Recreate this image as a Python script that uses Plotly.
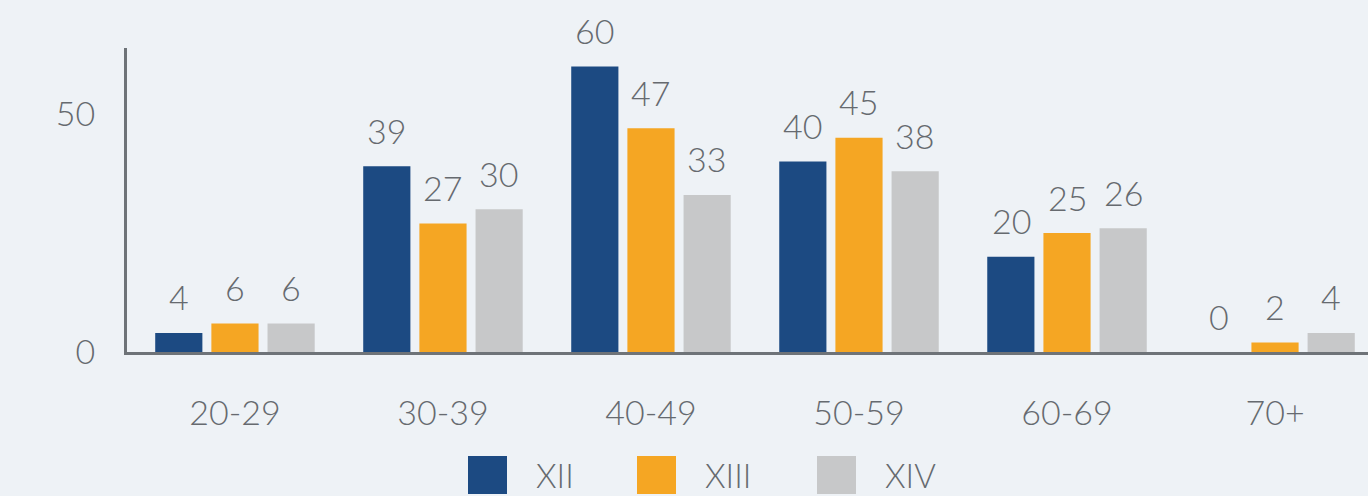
import plotly.graph_objects as go

categories = ["20-29", "30-39", "40-49", "50-59", "60-69", "70+"]
series_names = ["XII", "XIII", "XIV"]
xii = [4, 39, 60, 40, 20, 0]
xiii = [6, 27, 47, 45, 25, 2]
xiv = [6, 30, 33, 38, 26, 4]
y_ticks = [0, 50]

colors = ["#1c4a82", "#f5a623", "#c7c8c9"]
text_color = "#666a6f"
axis_color = "#6e7378"
FONT = "Lato"
WEIGHT = 300

L, R, T, B = 127, 1368, 48, 352
W, H = R - L, B - T
slot_px = 56  # pixel distance between bar centres within a group

fig = go.Figure()
all_series = [xii, xiii, xiv]
for i, (name, vals, col) in enumerate(zip(series_names, all_series, colors)):
    fig.add_trace(go.Bar(
        x=categories, y=vals, name=name,
        marker=dict(color=col, line=dict(width=0)),
        cliponaxis=False, showlegend=False, hoverinfo="skip",
    ))
    for c, v in zip(categories, vals):
        fig.add_annotation(
            x=c, y=v, text=str(v), showarrow=False,
            xshift=(i - 1) * slot_px, yshift=36,
            xanchor="center", yanchor="middle",
            font=dict(family=FONT, size=34, color=text_color, weight=WEIGHT),
        )

def px(x):
    return (x - L) / W
def py(y):
    return (B - y) / H

sw_left = [468, 637, 817]
for name, col, x0 in zip(series_names, colors, sw_left):
    fig.add_shape(type="rect", xref="paper", yref="paper",
                  x0=px(x0), x1=px(x0 + 39), y0=py(456), y1=py(494),
                  fillcolor=col, line=dict(width=0), layer="above")
    fig.add_annotation(xref="paper", yref="paper", x=px(x0 + 66), y=py(475),
                       text=name, showarrow=False, xanchor="left", yanchor="middle",
                       font=dict(family=FONT, size=33, color=text_color, weight=WEIGHT))

fig.update_layout(
    width=1368, height=496,
    margin=dict(l=L, r=1368 - R, t=T, b=496 - B, pad=0),
    paper_bgcolor="#eef2f6", plot_bgcolor="rgba(0,0,0,0)",
    barmode="group", bargap=0.19, bargroupgap=0.16,
    font=dict(family=FONT, size=34, color=text_color, weight=WEIGHT),
    showlegend=False,
)
fig.update_xaxes(
    type="category", range=[-0.519, 5.447],
    showline=True, linecolor=axis_color, linewidth=3,
    showgrid=False, zeroline=False, ticks="", ticklabelstandoff=29,
    tickfont=dict(family=FONT, size=34, color=text_color, weight=WEIGHT),
)
fig.update_yaxes(
    range=[0, 63.87], tickvals=y_ticks,
    showline=True, linecolor=axis_color, linewidth=3,
    showgrid=False, zeroline=False, ticks="", ticklabelstandoff=22,
    tickfont=dict(family=FONT, size=34, color=text_color, weight=WEIGHT),
)
fig.write_html("out.html", config={"displayModeBar": False},
               post_script="document.body.style.margin='0';")
